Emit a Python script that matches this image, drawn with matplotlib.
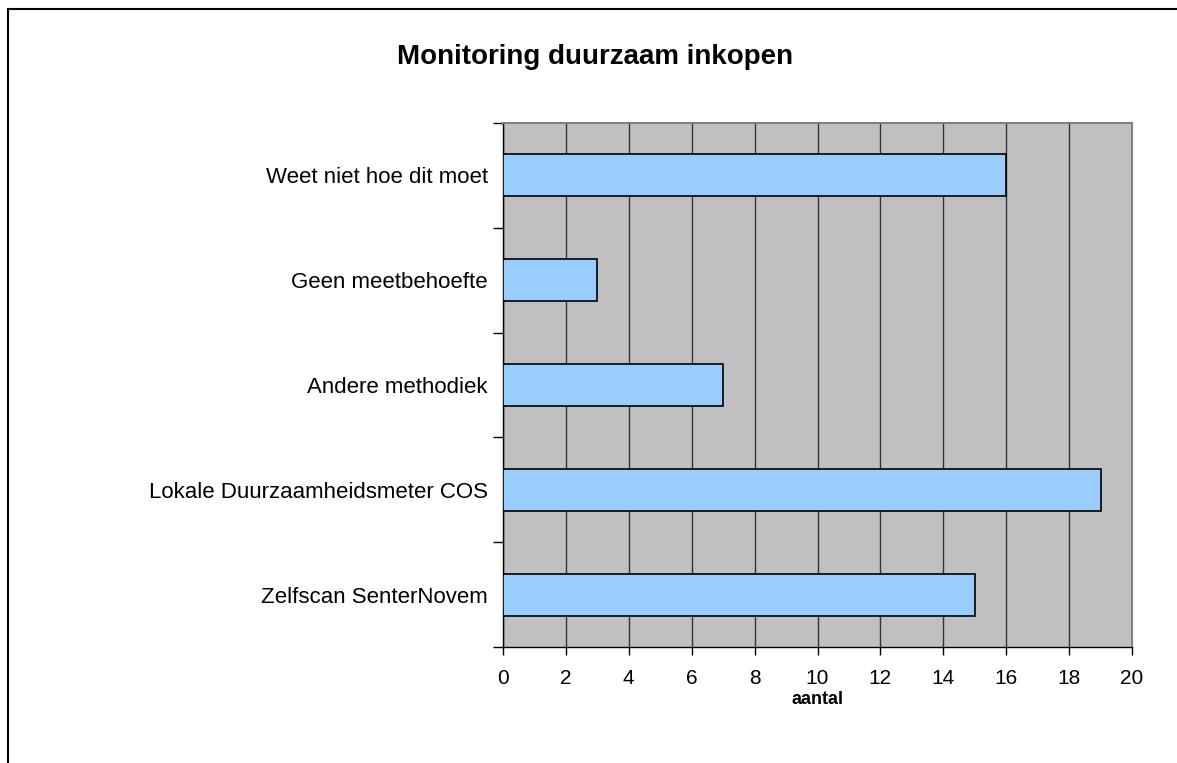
import matplotlib
matplotlib.use("Agg")
import matplotlib.pyplot as plt
from matplotlib.patches import Rectangle
import numpy as np

# ── Data ─────────────────────────────────────────────────────────────────────
categories = [
    "Zelfscan SenterNovem",
    "Lokale Duurzaamheidsmeter COS",
    "Andere methodiek",
    "Geen meetbehoefte",
    "Weet niet hoe dit moet",
]
values = [15, 19, 7, 3, 16]
x_ticks = list(range(0, 21, 2))

plt.rcParams["font.family"] = ["Liberation Sans", "DejaVu Sans"]

W, H = 1177, 763
fig = plt.figure(figsize=(W / 100, H / 100), dpi=100)
ax = fig.add_axes([503 / W, 1 - 647 / H, (1132 - 503) / W, (647 - 123) / H])

# figure frame (cut off at right/bottom like the original)
fig.patches.append(Rectangle((8 / W, -0.1), 1.2, 1 - 9 / H + 0.1,
                             transform=fig.transFigure, fill=False,
                             edgecolor="#000000", linewidth=1.5))

ax.set_facecolor("#C0C0C0")
y = np.arange(len(categories))
ax.barh(y, values, height=0.4, color="#99CCFF", edgecolor="#000000",
        linewidth=1.2, zorder=3)

ax.set_xlim(0, 20)
ax.set_ylim(-0.5, len(categories) - 0.5)
ax.set_xticks(x_ticks)
ax.set_xticklabels([str(t) for t in x_ticks], fontsize=15)
ax.tick_params(axis="x", length=6, width=1, pad=10, direction="out")

ax.set_yticks(y)
ax.set_yticklabels(categories, fontsize=16)
ax.tick_params(axis="y", which="major", length=0, pad=11)
ax.set_yticks(np.arange(-0.5, len(categories)), minor=True)
ax.tick_params(axis="y", which="minor", length=7, width=1, direction="out")

ax.grid(axis="x", color="#333333", linewidth=1, zorder=1)
ax.set_axisbelow(True)

for side in ("top", "right"):
    ax.spines[side].set_color("#808080")
    ax.spines[side].set_linewidth(1.5)
for side in ("left", "bottom"):
    ax.spines[side].set_color("#000000")
    ax.spines[side].set_linewidth(1)

ax.set_xlabel("aantal", fontsize=13, fontweight="bold", labelpad=2)
fig.text(595 / W, 1 - 57 / H, "Monitoring duurzaam inkopen",
         fontsize=20, fontweight="bold", ha="center", va="center")

fig.savefig("out.png", dpi=100)
